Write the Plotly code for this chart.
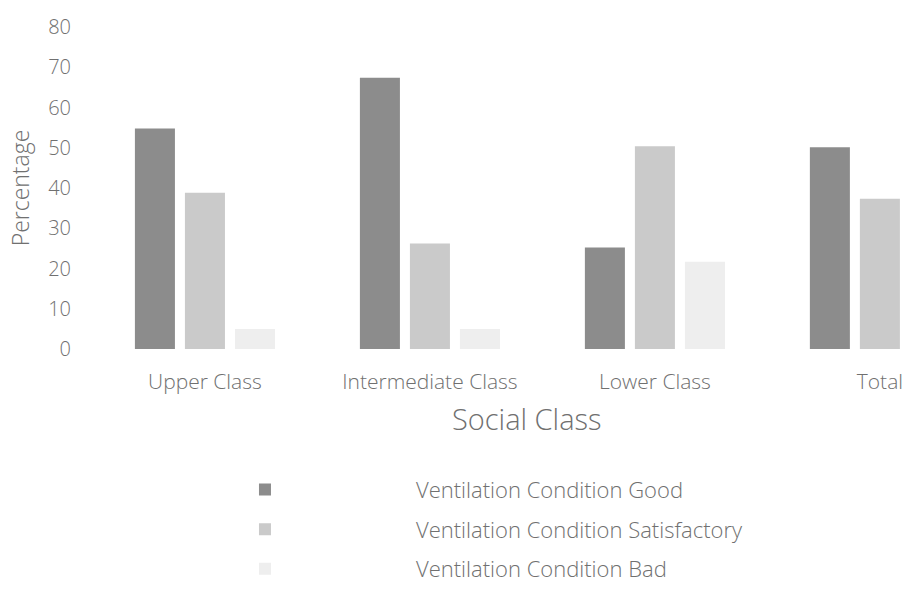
import plotly.graph_objects as go

categories = ["Upper Class", "Intermediate Class", "Lower Class", "Total"]
good = [54.8, 67.4, 25.2, 50.1]
satisfactory = [38.8, 26.2, 50.4, 37.3]
bad = [5.0, 5.0, 21.7, 12.6]
series_names = ["Ventilation Condition Good", "Ventilation Condition Satisfactory", "Ventilation Condition Bad"]
y_ticks = [0, 10, 20, 30, 40, 50, 60, 70, 80]

colors = ["#8c8c8c", "#cacaca", "#eeeeee"]
FONT = "Open Sans"
TXT = "#707070"
W = 300

fig = go.Figure()
for i, (name, vals, col) in enumerate(zip(series_names, [good, satisfactory, bad], colors)):
    fig.add_trace(go.Bar(x=categories, y=vals, name=name, legendgroup=f"g{i}",
                         marker=dict(color=col, line=dict(width=0))))

fig.update_layout(
    width=906, height=590,
    margin=dict(l=92, r=0, t=27, b=241, autoexpand=False),
    paper_bgcolor="white", plot_bgcolor="white",
    barmode="group", bargap=0.333, bargroupgap=0.2,
    font=dict(family=FONT, color=TXT, size=21, weight=W),
    showlegend=True,
    legend=dict(
        orientation="v", x=0.027, y=-0.372, xanchor="left", yanchor="top",
        font=dict(size=22, color=TXT, family=FONT, weight=W),
        itemwidth=292, tracegroupgap=8, traceorder="grouped",
    ),
    annotations=[dict(
        text="Social Class", xref="paper", yref="paper", x=0.534, y=-0.217,
        xanchor="center", yanchor="middle", showarrow=False,
        font=dict(size=29, color=TXT, family=FONT, weight=W),
    )],
)
fig.update_xaxes(
    range=[-0.502, 3.116], showgrid=False, showline=False, zeroline=False,
    ticks="", ticklabelstandoff=18, tickfont=dict(size=21, color=TXT, weight=W),
)
fig.update_yaxes(
    range=[0, 80], tickvals=y_ticks, showgrid=False, showline=False, zeroline=False,
    ticks="", ticklabelstandoff=20, tickfont=dict(size=20, color=TXT, weight=W),
    title=dict(text="Percentage", font=dict(size=23, color=TXT, weight=W), standoff=12),
)

fig.write_html("out.html", config={"displayModeBar": False},
               post_script="document.body.style.margin='0';document.body.style.overflow='hidden';")
